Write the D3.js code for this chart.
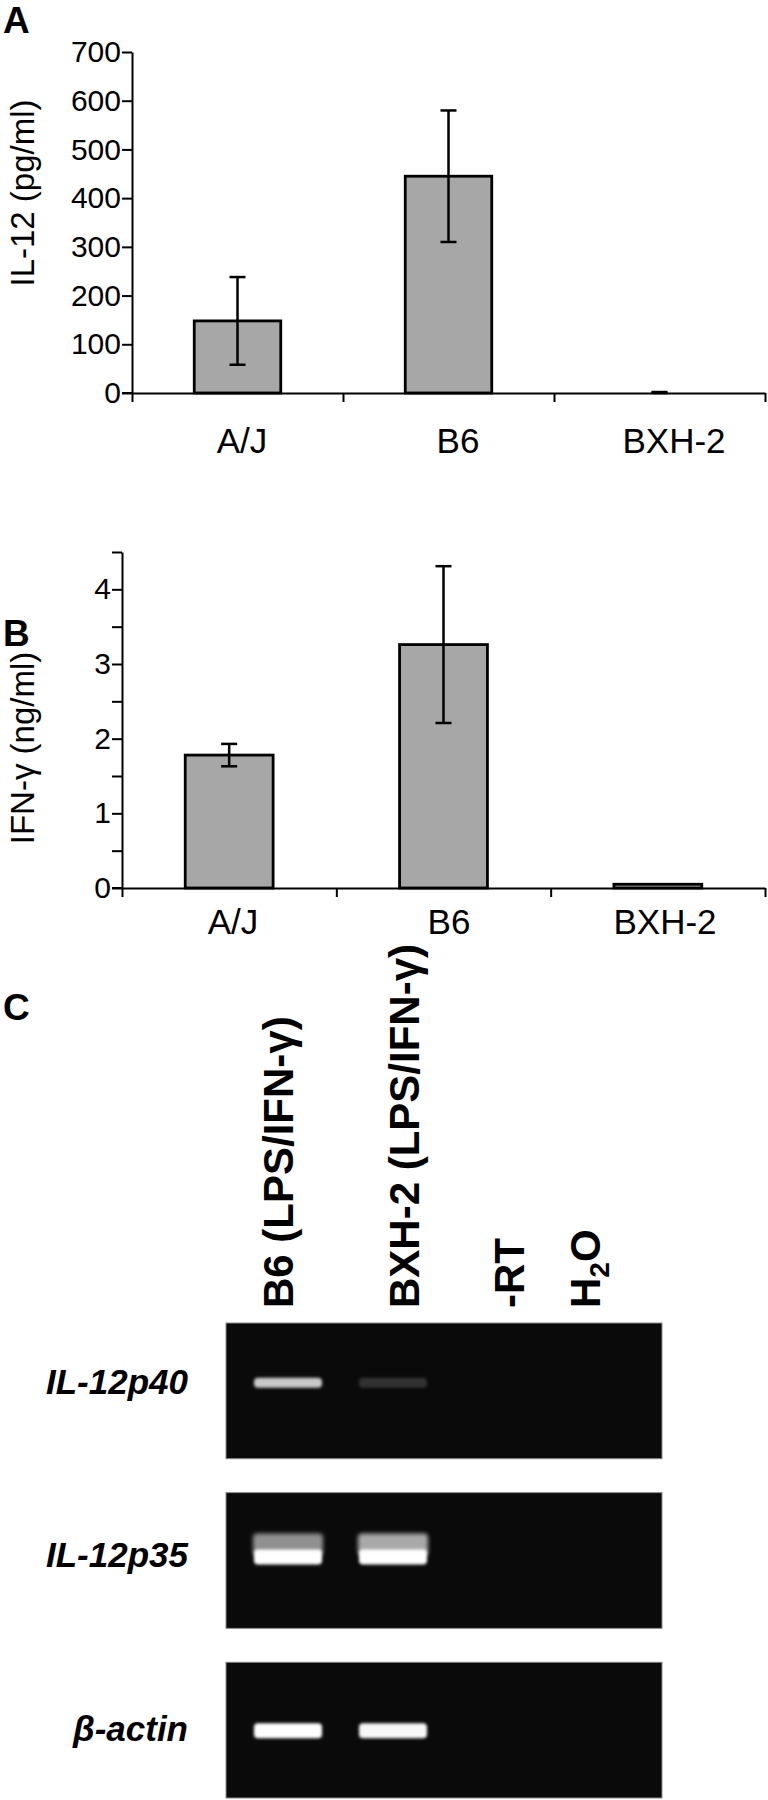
<!DOCTYPE html>
<html>
<head>
<meta charset="utf-8">
<script src="https://cdn.jsdelivr.net/npm/d3@7"></script>
<style>
  body { margin: 0; background: #fff; }
  svg { display: block; }
  text { font-family: "Liberation Sans", Arial, sans-serif; fill: #000; }
</style>
</head>
<body>
<div id="chart"></div>
<script>
////////////////////////////  Data  ////////////////////////////
const strains = ["A/J", "B6", "BXH-2"];

// panel A : IL-12 (pg/ml)
const il12Mean = [148, 445, 0];
const il12Err = [90, 135, 2];
const il12Ticks = [0, 100, 200, 300, 400, 500, 600, 700];

// panel B : IFN-g (ng/ml)
const ifngMean = [1.78, 3.26, 0.05];
const ifngErr = [0.15, 1.05, 0];
const ifngTicks = [0, 0.5, 1, 1.5, 2, 2.5, 3, 3.5, 4, 4.5];

// panel C : RT-PCR gel
const gelGenes = ["IL-12p40", "IL-12p35", "β-actin"];
const gelLanes = ["B6 (LPS/IFN-γ)", "BXH-2 (LPS/IFN-γ)", "-RT", "H2O"];
const bandIntensity = [
  [0.78, 0.16, 0, 0],
  [1, 1, 0, 0],
  [1, 0.97, 0, 0]
];
const smearIntensity = [
  [0, 0, 0, 0],
  [0.55, 0.65, 0, 0],
  [0, 0, 0, 0]
];
const bandMigration = [0.44, 0.47, 0.5];

////////////////////////////  Init  ////////////////////////////
const width = 768, height = 1800;
const svg = d3.select("#chart").append("svg")
  .attr("width", width).attr("height", height);

const defs = svg.append("defs");
defs.append("filter").attr("id", "glow")
  .attr("x", "-20%").attr("y", "-100%").attr("width", "140%").attr("height", "300%")
  .append("feGaussianBlur").attr("stdDeviation", 1.6);
defs.append("filter").attr("id", "smear")
  .attr("x", "-20%").attr("y", "-100%").attr("width", "140%").attr("height", "300%")
  .append("feGaussianBlur").attr("stdDeviation", 2.2);

// panel letters
[["A", 33], ["B", 646], ["C", 1020]].forEach(([t, y]) => {
  svg.append("text").attr("x", 3).attr("y", y)
    .attr("font-size", 37).attr("font-weight", "bold").text(t);
});

////////////////////////////  Bar panels  ////////////////////////////
function barPanel(cfg) {
  const g = svg.append("g");

  const x = d3.scaleBand()
    .domain(strains)
    .range([cfg.left, cfg.right])
    .paddingInner(0.59)
    .paddingOuter(0.295);

  // category label positions (slightly off the bar centres in the original)
  const xl = d3.scalePoint().domain(strains).range(cfg.labelRange);

  const y = d3.scaleLinear()
    .domain(cfg.domain)
    .range([cfg.bottom, cfg.top]);

  // bars
  g.selectAll("rect.bar")
    .data(strains)
    .join("rect")
    .attr("class", "bar")
    .attr("x", (d) => x(d))
    .attr("width", x.bandwidth())
    .attr("y", (d, i) => y(cfg.mean[i]))
    .attr("height", (d, i) => y(0) - y(cfg.mean[i]))
    .attr("fill", "#a7a7a7")
    .attr("stroke", "#000")
    .attr("stroke-width", 2.8);

  // error bars
  const eb = g.selectAll("g.err")
    .data(strains.filter((d, i) => cfg.err[i] > 0))
    .join("g")
    .attr("class", "err")
    .attr("stroke", "#000")
    .attr("stroke-width", 2.5);
  const idx = (d) => strains.indexOf(d);
  const cx = (d) => x(d) + x.bandwidth() / 2;
  const hi = (d) => y(cfg.mean[idx(d)] + cfg.err[idx(d)]);
  const lo = (d) => y(Math.max(0, cfg.mean[idx(d)] - cfg.err[idx(d)]));
  eb.append("line")
    .attr("x1", cx).attr("x2", cx).attr("y1", hi).attr("y2", lo);
  eb.append("line")
    .attr("x1", (d) => cx(d) - 8).attr("x2", (d) => cx(d) + 8)
    .attr("y1", hi).attr("y2", hi);
  eb.append("line")
    .attr("x1", (d) => cx(d) - 8).attr("x2", (d) => cx(d) + 8)
    .attr("y1", lo).attr("y2", lo);

  // y axis
  const yAxis = d3.axisLeft(y)
    .tickValues(cfg.ticks)
    .tickSize(10)
    .tickSizeOuter(0)
    .tickPadding(1)
    .tickFormat((d) => (Number.isInteger(d) ? d : ""));
  const ya = g.append("g")
    .attr("transform", `translate(${cfg.left},0)`)
    .call(yAxis);
  ya.selectAll("text").attr("font-size", 30).attr("font-family", null);
  ya.selectAll("line, path").attr("stroke-width", 2);

  // x axis with ticks between categories
  const xb = d3.scaleLinear().domain([0, strains.length]).range([cfg.left, cfg.right]);
  const xAxis = d3.axisBottom(xb)
    .tickValues(d3.range(strains.length + 1))
    .tickSize(9)
    .tickSizeOuter(0)
    .tickFormat("");
  const xa = g.append("g")
    .attr("transform", `translate(0,${cfg.bottom})`)
    .call(xAxis);
  xa.selectAll("line, path").attr("stroke-width", 2);
  xa.append("line")
    .attr("x1", cfg.left - 10).attr("x2", cfg.left)
    .attr("stroke", "#000").attr("stroke-width", 2);

  // category labels
  g.selectAll("text.cat")
    .data(strains)
    .join("text")
    .attr("class", "cat")
    .attr("x", (d) => xl(d))
    .attr("y", cfg.bottom + cfg.labelGap)
    .attr("text-anchor", "middle")
    .attr("font-size", 35)
    .text((d) => d);

  // y title
  g.append("text")
    .attr("transform", `translate(34,${cfg.titleY}) rotate(-90)`)
    .attr("text-anchor", "middle")
    .attr("font-size", 33)
    .text(cfg.title);
}

barPanel({
  left: 132, right: 765, top: 52, bottom: 393,
  domain: [0, 700], ticks: il12Ticks,
  mean: il12Mean, err: il12Err,
  title: "IL-12 (pg/ml)", titleY: 193,
  labelGap: 60, labelRange: [242, 674]
});

barPanel({
  left: 122, right: 765, top: 552, bottom: 888,
  domain: [0, 4.5], ticks: ifngTicks,
  mean: ifngMean, err: ifngErr,
  title: "IFN-γ (ng/ml)", titleY: 748,
  labelGap: 46, labelRange: [233, 665]
});

////////////////////////////  Gel panel  ////////////////////////////
const gelLeft = 226, gelRight = 662;
const rows = d3.scaleBand()
  .domain(gelGenes)
  .range([1323, 1798])
  .paddingInner(0.2);
const lanes = d3.scalePoint()
  .domain(gelLanes)
  .range([288, 603]);
// lane label baselines (rotated text), as placed in the original figure
const laneLabelX = d3.scaleOrdinal()
  .domain(gelLanes)
  .range([293, 419, 524, 600]);

const gel = svg.append("g");

// lane labels
const laneText = gel.selectAll("text.lane")
  .data(gelLanes)
  .join("text")
  .attr("class", "lane")
  .attr("transform", (d) => `translate(${laneLabelX(d)},1308) rotate(-90)`)
  .attr("font-size", 42)
  .attr("font-weight", "bold");
laneText.filter((d) => d !== "H2O").text((d) => d);
const h2o = laneText.filter((d) => d === "H2O");
h2o.append("tspan").text("H");
h2o.append("tspan").attr("font-size", 28).attr("dy", 9).text("2");
h2o.append("tspan").attr("dy", -9).text("O");

gelGenes.forEach((gene, i) => {
  const top = rows(gene), h = rows.bandwidth();
  const row = gel.append("g");

  row.append("rect")
    .attr("x", gelLeft).attr("y", top)
    .attr("width", gelRight - gelLeft).attr("height", h)
    .attr("fill", "#0a0a0a")
    .attr("stroke", "#8a8a8a").attr("stroke-width", 1);

  const by = top + bandMigration[i] * h;

  // diffuse upper smear
  row.selectAll("rect.smear")
    .data(gelLanes.filter((d, j) => smearIntensity[i][j] > 0))
    .join("rect")
    .attr("class", "smear")
    .attr("x", (d) => lanes(d) - 35).attr("width", 70)
    .attr("y", by - 23).attr("height", 22)
    .attr("rx", 4)
    .attr("fill", "#fff")
    .attr("opacity", (d) => smearIntensity[i][gelLanes.indexOf(d)])
    .attr("filter", "url(#smear)");

  // main bands
  row.selectAll("rect.band")
    .data(gelLanes.filter((d, j) => bandIntensity[i][j] > 0))
    .join("rect")
    .attr("class", "band")
    .attr("x", (d) => lanes(d) - 34).attr("width", 68)
    .attr("y", by - (i === 0 ? 5 : 7)).attr("height", i === 0 ? 10 : 15)
    .attr("rx", 4)
    .attr("fill", "#fff")
    .attr("opacity", (d) => bandIntensity[i][gelLanes.indexOf(d)])
    .attr("filter", "url(#glow)");

  // gene label
  row.append("text")
    .attr("x", 188).attr("y", by + 11)
    .attr("text-anchor", "end")
    .attr("font-size", 35)
    .attr("font-weight", "bold")
    .attr("font-style", "italic")
    .text(gene);
});
</script>
</body>
</html>
